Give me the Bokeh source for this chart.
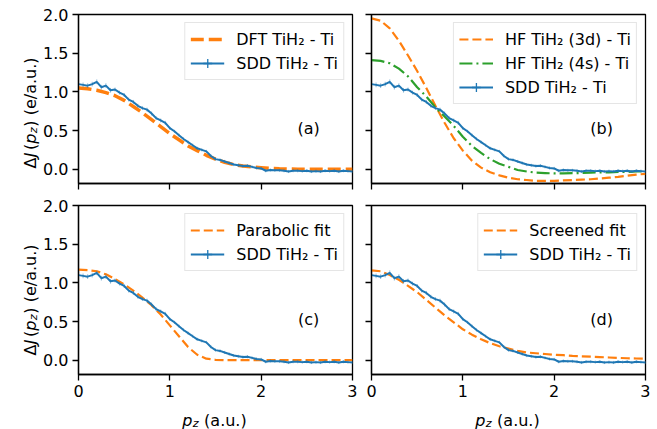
import numpy as np
from bokeh.plotting import figure
from bokeh.models import Range1d, FixedTicker, Label, Legend, LegendItem, ColumnDataSource, PrintfTickFormatter
from bokeh.layouts import column, row
from bokeh.embed import file_html
from bokeh.resources import INLINE
from bokeh.core.properties import value

FONT = "DejaVu Sans"
BLUE = "#1f77b4"
ORANGE = "#ff7f0e"
GREEN = "#2ca02c"

# ---------------- data ----------------
p_sdd = np.round(np.linspace(0, 3, 61), 3)
sdd = [1.10, 1.09, 1.08, 1.10, 1.13, 1.06, 1.08, 1.02, 1.03, 0.99,
       0.96, 0.90, 0.87, 0.82, 0.79, 0.77, 0.72, 0.66, 0.63, 0.60,
       0.53, 0.49, 0.44, 0.39, 0.35, 0.31, 0.27, 0.25, 0.23, 0.17,
       0.13, 0.12, 0.10, 0.08, 0.06, 0.05, 0.04, 0.045, 0.03, 0.015,
       0.01, -0.02, -0.01, -0.015, -0.015, -0.02, -0.03, -0.02, -0.02, -0.025,
       -0.02, -0.03, -0.025, -0.03, -0.02, -0.025, -0.02, -0.03, -0.02, -0.025,
       -0.03]
sdd_err = [0.03, 0.03, 0.03, 0.03, 0.03, 0.03, 0.03, 0.03, 0.025, 0.025,
           0.025, 0.025, 0.025, 0.025, 0.025, 0.025, 0.025, 0.025, 0.025, 0.025,
           0.02, 0.02, 0.02, 0.02, 0.02, 0.02, 0.02, 0.02, 0.02, 0.02,
           0.02, 0.02, 0.02, 0.02, 0.02, 0.02, 0.02, 0.02, 0.02, 0.02,
           0.02, 0.02, 0.02, 0.02, 0.02, 0.02, 0.02, 0.02, 0.02, 0.02,
           0.02, 0.02, 0.02, 0.02, 0.02, 0.02, 0.02, 0.02, 0.02, 0.02,
           0.02]

p_calc = np.round(np.linspace(0, 3, 31), 3)
dft = [1.05, 1.04, 1.02, 0.99, 0.95, 0.89, 0.81, 0.73, 0.64, 0.55,
       0.46, 0.38, 0.30, 0.24, 0.18, 0.13, 0.09, 0.06, 0.04, 0.03,
       0.02, 0.01, 0.005, 0.003, 0.0, 0.0, 0.0, 0.0, 0.0, 0.0, 0.0]
hf3d = [1.95, 1.92, 1.82, 1.66, 1.47, 1.27, 1.05, 0.82, 0.60, 0.40,
        0.24, 0.11, 0.02, -0.04, -0.08, -0.11, -0.13, -0.14, -0.15, -0.15,
        -0.15, -0.145, -0.14, -0.135, -0.13, -0.12, -0.11, -0.10, -0.085, -0.07, -0.06]
hf4s = [1.41, 1.40, 1.37, 1.30, 1.20, 1.06, 0.94, 0.80, 0.68, 0.56,
        0.42, 0.30, 0.21, 0.13, 0.07, 0.03, -0.01, -0.03, -0.045, -0.05,
        -0.055, -0.055, -0.05, -0.05, -0.045, -0.04, -0.04, -0.035, -0.035, -0.03, -0.03]
parab = [1.17, 1.165, 1.15, 1.11, 1.05, 0.98, 0.90, 0.81, 0.71, 0.59,
         0.45, 0.31, 0.17, 0.07, 0.02, 0.005, 0.0, 0.0, 0.0, 0.0,
         0.0, 0.0, 0.0, 0.0, 0.0, 0.0, 0.0, 0.0, 0.0, 0.0, 0.0]
screened = [1.16, 1.15, 1.10, 1.04, 0.96, 0.88, 0.78, 0.68, 0.58, 0.49,
            0.40, 0.33, 0.27, 0.22, 0.18, 0.15, 0.12, 0.10, 0.09, 0.08,
            0.07, 0.065, 0.055, 0.05, 0.045, 0.04, 0.035, 0.03, 0.025, 0.022, 0.02]

x_ticks = [0, 1, 2, 3]
y_ticks = [0.0, 0.5, 1.0, 1.5, 2.0]
panel_tags = ["(a)", "(b)", "(c)", "(d)"]
sdd_label = "SDD TiH\u2082 - Ti"

# ---------------- layout constants (pixels) ----------------
FW, FH = 274, 169
STRIP_W = 40          # width of y-label strip
L_IN = 37             # left border of left panels (tick labels)
GAP_L, GAP_R = 5, 14  # right border of left panels / left border of right panels
R_OUT = 5
TOP1, BOT1 = 14, 12
TOP2, BOT2 = 10, 30
XSTRIP_H = 25


def make_panel(tag, bl, br, bt, bb, show_x, show_y):
    p = figure(frame_width=FW, frame_height=FH, x_range=Range1d(0, 3), y_range=Range1d(-0.185, 2.0),
               output_backend="svg", toolbar_location=None,
               min_border_left=bl, min_border_right=br, min_border_top=bt, min_border_bottom=bb)
    p.grid.visible = False
    p.outline_line_color = "black"
    p.outline_line_width = 1.3
    p.outline_line_alpha = 1
    p.background_fill_color = "white"
    p.border_fill_color = "white"
    for ax in (p.xaxis[0], p.yaxis[0]):
        ax.axis_line_color = "black"
        ax.axis_line_width = 1.3
        ax.major_tick_line_color = "black"
        ax.major_tick_line_width = 1.3
        ax.major_tick_out = 6
        ax.major_tick_in = 0
        ax.minor_tick_line_color = None
        ax.major_label_text_font = FONT
        ax.major_label_text_font_size = "16px"
        ax.major_label_text_color = "black"
        ax.major_label_standoff = 4
    p.xaxis.ticker = FixedTicker(ticks=x_ticks)
    p.yaxis.ticker = FixedTicker(ticks=y_ticks)
    p.yaxis.formatter = PrintfTickFormatter(format="%.1f")
    if not show_x:
        p.xaxis.major_label_text_font_size = "0px"
        p.xaxis.major_label_standoff = 0
        p.xaxis.major_label_overrides = {t: "" for t in x_ticks}
    if not show_y:
        p.yaxis.major_label_text_font_size = "0px"
        p.yaxis.major_label_standoff = 0
        p.yaxis.major_label_overrides = {t: "" for t in y_ticks}
    p.add_layout(Label(x=2.52, y=0.53, text=tag, text_align="center", text_baseline="middle",
                       text_font=FONT, text_font_size="16px", text_color="black"))
    return p


def add_sdd(p):
    src = ColumnDataSource(dict(x=p_sdd, y=sdd,
                                lo=np.array(sdd) - np.array(sdd_err),
                                hi=np.array(sdd) + np.array(sdd_err)))
    p.segment(x0="x", y0="lo", x1="x", y1="hi", source=src, line_color=BLUE, line_alpha=0.5, line_width=1)
    r_line = p.line("x", "y", source=src, line_color=BLUE, line_width=2)
    r_mark = p.scatter(x=[np.nan], y=[np.nan], marker="cross", size=10, line_color=BLUE, line_width=1.3)
    return LegendItem(label=sdd_label, renderers=[r_line, r_mark])


def add_legend(p, items):
    leg = Legend(items=items, location="top_right")
    leg.label_text_font = FONT
    leg.label_text_font_size = "16px"
    leg.label_text_color = "black"
    leg.glyph_width = 34
    leg.glyph_height = 22
    leg.label_height = 22
    leg.label_standoff = 12
    leg.padding = 5
    leg.spacing = 2
    leg.margin = 8
    leg.border_line_color = "#cccccc"
    leg.border_line_width = 1
    leg.background_fill_alpha = 0.8
    p.add_layout(leg)


def blank_strip(w, h):
    s = figure(frame_width=w, frame_height=h, x_range=Range1d(0, w), y_range=Range1d(0, h),
               output_backend="svg", toolbar_location=None, x_axis_location=None, y_axis_location=None,
               min_border_left=0, min_border_right=0, min_border_top=0, min_border_bottom=0)
    s.grid.visible = False
    s.outline_line_color = None
    s.background_fill_color = "white"
    s.border_fill_color = "white"
    return s


# label pieces: text, style, size(px), advance after piece (em of that size), baseline shift(px)
YL_PIECES = [("\u0394", "normal", 16.0, 0.70, 0), ("J", "italic", 16.0, 0.45, 0),
             ("(", "normal", 16.0, 0.40, 0), ("p", "italic", 16.0, 0.66, 0),
             ("z", "italic", 11.2, 0.58, 3.5), (")", "normal", 16.0, 0.39 + 0.318, 0),
             ("(e/a.u.)", "normal", 16.0, 3.615, 0)]
XL_PIECES = [("p", "italic", 16.0, 0.66, 0), ("z", "italic", 11.2, 0.55 + 0.318 * 16 / 11.2, 3.0),
             ("(a.u.)", "normal", 16.0, 2.663, 0)]
YL_BASELINE_X = 29.5


def ylabel_strip(h, center_y):
    s = blank_strip(STRIP_W, h)
    total = sum(sz * w for _, _, sz, w, _ in YL_PIECES)
    y = center_y - total / 2
    for txt, style, size, w, shift in YL_PIECES:
        s.text(x=[YL_BASELINE_X + shift], y=[y], text=[txt], angle=np.pi / 2, text_align="left",
               text_baseline="alphabetic", text_font=value(FONT), text_font_style=style,
               text_font_size=f"{size}px", text_color="black")
        y += size * w
    return s


def xlabel_strip(total_w, h, centers, baseline):
    s = blank_strip(total_w, h)
    tot = sum(sz * w for _, _, sz, w, _ in XL_PIECES)
    for c in centers:
        x = c - tot / 2
        for txt, style, size, w, shift in XL_PIECES:
            s.text(x=[x], y=[baseline - shift], text=[txt], text_align="left",
                   text_baseline="alphabetic", text_font=value(FONT), text_font_style=style,
                   text_font_size=f"{size}px", text_color="black")
            x += size * w
    return s


# (a)
pa = make_panel(panel_tags[0], L_IN, GAP_L, TOP1, BOT1, False, True)
r = pa.line(p_calc, dft, line_color=ORANGE, line_width=3.5, line_dash="13 5")
it_sdd = add_sdd(pa)
add_legend(pa, [LegendItem(label="DFT TiH\u2082 - Ti", renderers=[r]), it_sdd])

# (b)
pb = make_panel(panel_tags[1], GAP_R, R_OUT, TOP1, BOT1, False, False)
r3 = pb.line(p_calc, hf3d, line_color=ORANGE, line_width=2.2, line_dash="9 4")
r4 = pb.line(p_calc, hf4s, line_color=GREEN, line_width=2.2, line_dash="13 4 2 4")
it_sdd = add_sdd(pb)
add_legend(pb, [LegendItem(label="HF TiH\u2082 (3d) - Ti", renderers=[r3]),
                LegendItem(label="HF TiH\u2082 (4s) - Ti", renderers=[r4]), it_sdd])

# (c)
pc = make_panel(panel_tags[2], L_IN, GAP_L, TOP2, BOT2, True, True)
r = pc.line(p_calc, parab, line_color=ORANGE, line_width=2.2, line_dash="9 4")
it_sdd = add_sdd(pc)
add_legend(pc, [LegendItem(label="Parabolic fit", renderers=[r]), it_sdd])

# (d)
pd_ = make_panel(panel_tags[3], GAP_R, R_OUT, TOP2, BOT2, True, False)
r = pd_.line(p_calc, screened, line_color=ORANGE, line_width=2.2, line_dash="9 4")
it_sdd = add_sdd(pd_)
add_legend(pd_, [LegendItem(label="Screened fit", renderers=[r]), it_sdd])

h1 = TOP1 + FH + BOT1
h2 = TOP2 + FH + BOT2
ys1 = ylabel_strip(h1, BOT1 + FH / 2)
ys2 = ylabel_strip(h2, BOT2 + FH / 2)

total_w = STRIP_W + L_IN + FW + GAP_L + GAP_R + FW + R_OUT
c1 = STRIP_W + L_IN + FW / 2
c2 = STRIP_W + L_IN + FW + GAP_L + GAP_R + FW / 2
xs = xlabel_strip(total_w, XSTRIP_H, [c1, c2], 9.5)

layout = column(row(ys1, pa, pb), row(ys2, pc, pd_), xs)
open("out.html", "w").write(file_html(layout, INLINE))
